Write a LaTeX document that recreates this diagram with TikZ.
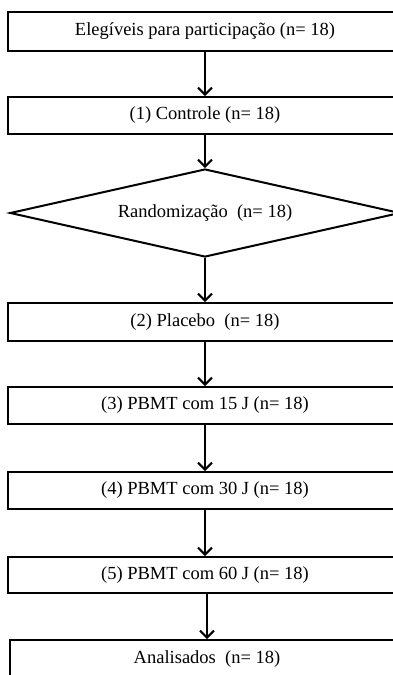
\documentclass[tikz,border=0pt]{standalone}
\usepackage{fontspec}
\setmainfont{Liberation Serif}
\usetikzlibrary{shapes.geometric,arrows.meta}

\begin{document}
\begin{tikzpicture}[x=1pt,y=1pt]
		 \tikzstyle{every node}+=[inner sep=0pt,font=\fontsize{18.5}{22}\selectfont]
		 \tikzstyle{etapa}=[draw,black,line width=2pt,minimum width=394pt]
		 \tikzstyle{decisao}=[draw,black,line width=2pt,diamond,aspect=4.43,minimum width=390pt,minimum height=88pt]
		 \tikzstyle{seta}=[black,line width=2pt,-{Straight Barb[length=7pt,width=14pt,line width=2pt]}]
		 \useasboundingbox (0,0) rectangle (393,-675);
		 \clip (0,0) rectangle (393,-675);
		 \node [etapa,minimum height=39pt] (eleg) at (205,-31.5) {Elegíveis para participação (n= 18)};
		 \node [etapa,minimum height=37pt] (ctrl) at (205,-115.5) {(1) Controle (n= 18)};
		 \node [decisao] (rand) at (205,-213) {Randomização~ (n= 18)};
		 \node [etapa,minimum height=38pt] (plac) at (205,-322) {(2) Placebo~ (n= 18)};
		 \node [etapa,minimum height=37pt] (pbm15) at (205,-405.5) {(3) PBMT com 15 J (n= 18)};
		 \node [etapa,minimum height=37pt] (pbm30) at (205,-490.5) {(4) PBMT com 30 J (n= 18)};
		 \node [etapa,minimum height=36pt] (pbm60) at (205,-575) {(5) PBMT com 60 J (n= 18)};
		 \node [etapa,minimum height=38pt] (anal) at (207,-659) {Analisados~ (n= 18)};
		 \draw [seta] (eleg) -- (ctrl);
		 \draw [seta] (ctrl) -- (rand);
		 \draw [seta] (rand) -- (plac);
		 \draw [seta] (plac) -- (pbm15);
		 \draw [seta] (pbm15) -- (pbm30);
		 \draw [seta] (pbm30) -- (pbm60);
		 \draw [seta] (pbm60.south -| anal) -- (anal);
	 \end{tikzpicture}
\end{document}
